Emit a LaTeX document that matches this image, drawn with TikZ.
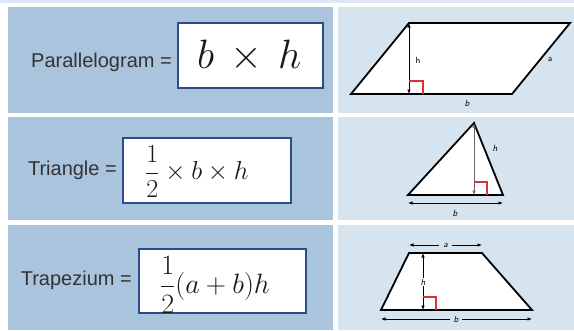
\RequirePackage{fix-cm}
\documentclass[tikz,border=0pt]{standalone}
\usepackage[no-math]{fontspec}
\setmainfont{Liberation Sans}
\usepackage{amsmath}
\usepackage{tikz}
\usetikzlibrary{positioning}
\usetikzlibrary{arrows.meta}

\definecolor{panelDark}{HTML}{A9C4DC}
\definecolor{panelLight}{HTML}{D6E4F0}
\definecolor{panelStrip}{HTML}{DCE8F3}
\definecolor{boxBlue}{HTML}{2A4C8C}
\definecolor{markRed}{HTML}{D9323A}
\definecolor{textGray}{HTML}{333333}

\begin{document}
\begin{tikzpicture}[x=1pt, y=-1pt,
    nametext/.style={text=textGray, inner sep=0pt, anchor=east, font=\fontsize{20}{23}\selectfont},
    formulabox/.style={draw=boxBlue, line width=1.6pt, fill=white, inner sep=0pt, anchor=west},
    formulatext/.style={text=black!90, inner sep=0pt, anchor=west},
    shapeline/.style={draw=black, fill=white, line width=1.8pt, line join=miter},
    dimline/.style={black, line width=0.7pt, {Latex[length=4.5pt,width=3.5pt]}-{Latex[length=4.5pt,width=3.5pt]}},
    rightmark/.style={draw=markRed, line width=1.1pt},
    dimtext/.style={inner sep=1pt, font=\sffamily\itshape\fontsize{9}{10}\selectfont}]

    \useasboundingbox (0,0) rectangle (574,330);

    % background panels
    \fill[panelStrip] (0,0) rectangle (574,2.5);
    \fill[panelDark] (8,7) rectangle (333,113);
    \fill[panelLight] (338,7) rectangle (574,113);
    \fill[panelDark] (8,117) rectangle (333,220);
    \fill[panelLight] (338,117) rectangle (574,220);
    \fill[panelDark] (8,225) rectangle (333,330);
    \fill[panelLight] (338,225) rectangle (574,330);

    % formulas
    \node[nametext] (parname) at (172,62) {Parallelogram =};
    \node[formulabox, minimum width=145pt, minimum height=65pt] (parbox) at (177,55.5) {};
    \node[formulatext, right=20pt of parbox.west, font=\fontsize{41}{46}\selectfont] (parform) {$b\,\times\,h$};

    \node[nametext] (triname) at (117,170) {Triangle =};
    \node[formulabox, minimum width=168pt, minimum height=65pt] (tribox) at (122,170.5) {};
    \node[formulatext, right=23pt of tribox.west, yshift=-1pt, font=\fontsize{26}{30}\selectfont] (triform) {$\displaystyle\frac{1}{2}\times b\times h$};

    \node[nametext] (trapname) at (132,280) {Trapezium =};
    \node[formulabox, minimum width=167pt, minimum height=64pt] (trapbox) at (138,281) {};
    \node[formulatext, right=22pt of trapbox.west, yshift=-4pt, font=\fontsize{28}{32}\selectfont] (trapform) {$\displaystyle\frac{1}{2}(a+b)h$};

    % parallelogram
    \coordinate (pA) at (351,94);
    \coordinate (pB) at (512,94);
    \coordinate (pC) at (570,23);
    \coordinate (pD) at (409,23);
    \coordinate (pH) at (409,94);
    \draw[shapeline] (pA) -- (pB) -- (pC) -- (pD) -- cycle;
    \draw[dimline] (pD) -- (pH);
    \draw[rightmark] ([yshift=13pt]pH) -| ([xshift=14pt]pH);
    \node[dimtext, font=\sffamily\fontsize{9}{10}\selectfont] (ph) at (418,60) {h};
    \node[dimtext, font=\sffamily\fontsize{9}{10}\selectfont] (pa) at (550,59) {a};
    \node[dimtext] (pb) at (467,103) {b};

    % triangle
    \coordinate (tA) at (408,195);
    \coordinate (tB) at (503,195);
    \coordinate (tC) at (474,123);
    \coordinate (tH) at (474,195);
    \coordinate (tL) at (408,203);
    \coordinate (tR) at (503,203);
    \draw[shapeline] (tA) -- (tB) -- (tC) -- cycle;
    \draw[dimline, black!60] (tC) -- (tH);
    \draw[rightmark] ([yshift=13pt]tH) -| ([xshift=13pt]tH);
    \draw[dimline] (tL) -- (tR);
    \node[dimtext] (th) at (495,148) {h};
    \node[dimtext] (tb) at (455,213) {b};

    % trapezium
    \coordinate (zA) at (381,310);
    \coordinate (zB) at (532,310);
    \coordinate (zC) at (482,253);
    \coordinate (zD) at (409,253);
    \coordinate (zT) at (423,253);
    \coordinate (zF) at (423,310);
    \coordinate (zTL) at (409,245);
    \coordinate (zTR) at (482,245);
    \coordinate (zBL) at (381,319);
    \coordinate (zBR) at (532,319);
    \draw[shapeline] (zA) -- (zB) -- (zC) -- (zD) -- cycle;
    \draw[dimline] (zT) -- (zF);
    \draw[rightmark] ([yshift=13pt]zF) -| ([xshift=13pt]zF);
    \draw[dimline] (zTL) -- (zTR);
    \draw[dimline] (zBL) -- (zBR);
    \node[dimtext, fill=white] (zh) at (423,282) {h};
    \node[dimtext, fill=panelLight, inner xsep=4pt] (za) at (445.5,245) {a};
    \node[dimtext, fill=panelLight, inner xsep=4pt] (zb) at (456,319) {b};
\end{tikzpicture}
\end{document}
